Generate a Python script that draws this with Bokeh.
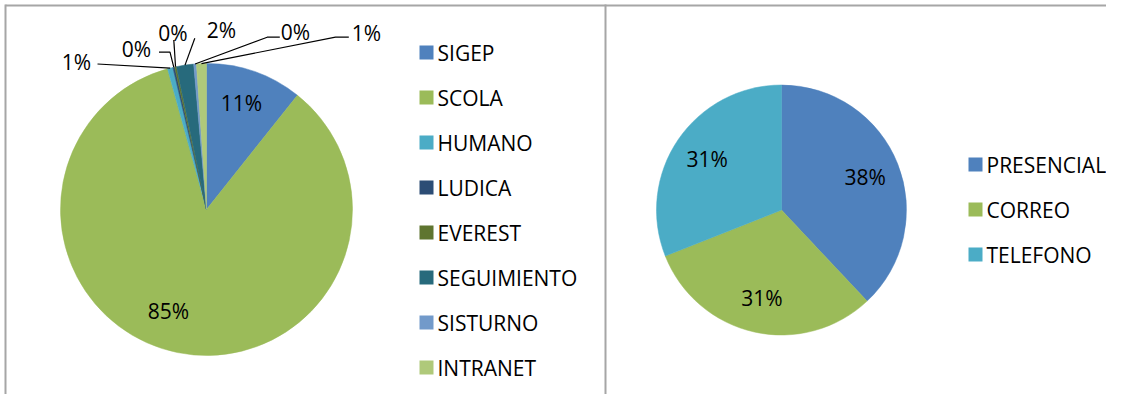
import numpy as np
from bokeh.plotting import figure
from bokeh.models import Range1d, ColumnDataSource
from bokeh.core.properties import value
from bokeh.embed import file_html
from bokeh.resources import INLINE

# ---------------- data ----------------
modules = ["SIGEP", "SCOLA", "HUMANO", "LUDICA", "EVEREST", "SEGUIMIENTO", "SISTURNO", "INTRANET"]
module_share = [10.7, 85.0, 0.6, 0.2, 0.2, 1.9, 0.3, 1.1]
module_colors = ["#4F81BD", "#9BBB59", "#4BACC6", "#2C4D75", "#5F7530", "#276A7C", "#729ACA", "#AFC97A"]

channels = ["PRESENCIAL", "CORREO", "TELEFONO"]
channel_share = [38, 31, 31]
channel_colors = ["#4F81BD", "#9BBB59", "#4BACC6"]

# ---------------- layout (pixels) ----------------
W, H = 1106, 394
FONT = value("Open Sans")
FS = "21px"


def Y(yref):
    return 410 - yref


p = figure(width=W, height=H, x_range=Range1d(0, W), y_range=Range1d(410 - H, 410),
           output_backend="svg", toolbar_location=None, min_border=0,
           x_axis_location=None, y_axis_location=None)
p.grid.visible = False
p.outline_line_color = None
p.background_fill_color = "white"
p.border_fill_color = "white"

# chart-area borders
p.segment(x0=[5, 5, 605], y0=[Y(5), Y(4), Y(4)], x1=[W, 5, 605], y1=[Y(5), Y(410), Y(410)],
          line_color="#A6A6A6", line_width=2)


def pie(cx, cy, r, vals, colors):
    vals = np.asarray(vals, dtype=float)
    frac = vals / vals.sum()
    cum = np.concatenate([[0.0], np.cumsum(frac)])
    start = np.pi / 2 - cum[:-1] * 2 * np.pi
    end = np.pi / 2 - cum[1:] * 2 * np.pi
    src = ColumnDataSource(dict(start=start, end=end, color=colors))
    p.wedge(x=cx, y=Y(cy), radius=r, start_angle="start", end_angle="end", direction="clock",
            fill_color="color", line_color="color", line_width=0.5, source=src)
    labels = ["%d%%" % round(f * 100) for f in frac]
    mid = (start + end) / 2
    return labels, mid


def legend(x0, y0, step, names, colors):
    ys = [Y(y0 + i * step) for i in range(len(names))]
    p.rect(x=[x0 + 7] * len(names), y=ys, width=14, height=14, fill_color=colors, line_color=None)
    p.text(x=[x0 + 18] * len(names), y=ys, text=names, text_font=FONT, text_font_size=FS,
           text_align="left", text_baseline="middle", text_color="black")


# ---- left pie ----
LCX, LCY, LR = 206, 209, 146
llabels, lmid = pie(LCX, LCY, LR, module_share, module_colors)
# label anchor positions (best-fit placement)
lab_pos = [(241, 102), (168, 310), (76, 61), (136, 48), (172.5, 32), (221, 29), (295, 31), (366, 32)]
p.text(x=[q[0] for q in lab_pos], y=[Y(q[1]) for q in lab_pos], text=llabels, text_font=FONT,
       text_font_size=FS, text_align="center", text_baseline="middle", text_color="black")
# leader lines: label-side points, then slice edge
leader_pts = {2: [(97, 63.5)], 3: [(158.5, 51.7), (169.5, 51.7)], 4: [(173.3, 39.5)],
              5: [(194.3, 37.7)], 6: [(279.3, 36.7), (266.7, 36.7)], 7: [(348.3, 36.7), (335, 36.7)]}
xs, ys = [], []
for i, pts in leader_pts.items():
    ex = LCX + LR * np.cos(lmid[i])
    ey = Y(LCY) + LR * np.sin(lmid[i])
    xs.append([q[0] for q in pts] + [ex])
    ys.append([Y(q[1]) for q in pts] + [ey])
p.multi_line(xs=xs, ys=ys, line_color="black", line_width=1.2)

legend(419, 52, 45, modules, module_colors)

# ---- right pie ----
RCX, RCY, RR = 781, 209.5, 125
rlabels, rmid = pie(RCX, RCY, RR, channel_share, channel_colors)
p.text(x=RCX + 0.72 * RR * np.cos(rmid), y=Y(RCY) + 0.72 * RR * np.sin(rmid), text=rlabels,
       text_font=FONT, text_font_size=FS, text_align="center", text_baseline="middle", text_color="black")

legend(968, 164, 45, channels, channel_colors)

open("out.html", "w").write(file_html(p, INLINE))
